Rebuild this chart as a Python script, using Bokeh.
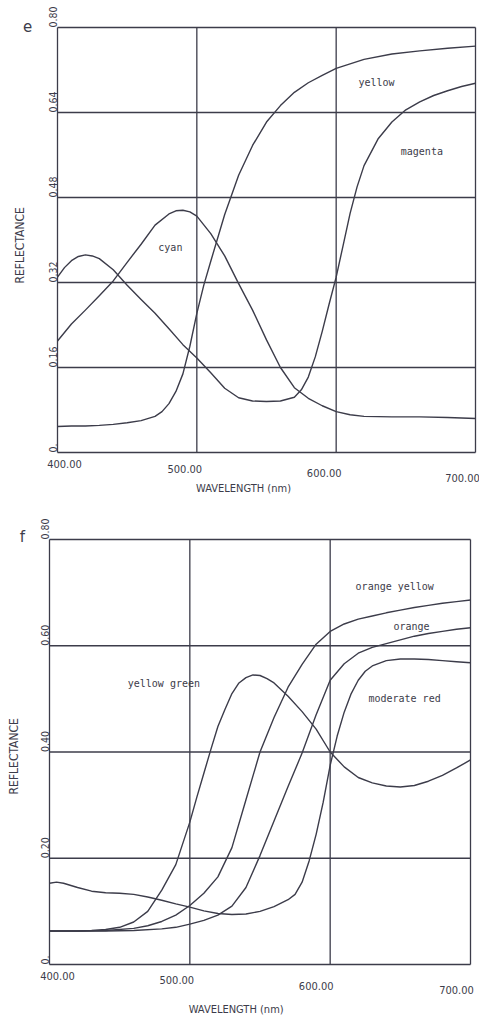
import math
from bokeh.plotting import figure
from bokeh.models import Label, Range1d
from bokeh.layouts import column
from bokeh.embed import file_html
from bokeh.resources import INLINE

# ---------------- data: panel e ----------------
e_cyan_wl = [400, 410, 420, 430, 440, 450, 460, 470, 480, 485, 490, 495, 500, 510, 520, 530,
             540, 550, 560, 570, 580, 590, 600, 610, 620, 640, 660, 680, 700]
e_cyan = [0.210, 0.242, 0.268, 0.295, 0.323, 0.358, 0.392, 0.428, 0.449, 0.455, 0.456, 0.453,
          0.445, 0.412, 0.370, 0.318, 0.268, 0.212, 0.160, 0.122, 0.102, 0.088, 0.077, 0.071,
          0.068, 0.067, 0.067, 0.066, 0.064]

e_magenta_wl = [400, 405, 410, 415, 420, 425, 430, 440, 450, 460, 470, 480, 490, 500, 510, 520,
                530, 540, 550, 560, 570, 575, 580, 585, 590, 595, 600, 605, 610, 615, 620, 630,
                640, 650, 660, 670, 680, 690, 700]
e_magenta = [0.330, 0.348, 0.361, 0.369, 0.372, 0.370, 0.365, 0.344, 0.315, 0.288, 0.262,
             0.233, 0.203, 0.178, 0.150, 0.121, 0.103, 0.097, 0.096, 0.097, 0.104, 0.118,
             0.142, 0.180, 0.228, 0.280, 0.330, 0.390, 0.450, 0.500, 0.540, 0.590, 0.622,
             0.645, 0.660, 0.672, 0.681, 0.689, 0.695]

e_yellow_wl = [400, 410, 420, 430, 440, 450, 460, 470, 475, 480, 485, 490, 495, 500, 505,
               510, 520, 530, 540, 550, 560, 570, 580, 590, 600, 620, 640, 660, 680, 700]
e_yellow = [0.049, 0.050, 0.050, 0.051, 0.053, 0.056, 0.060, 0.068, 0.077, 0.092, 0.115,
            0.148, 0.200, 0.262, 0.315, 0.360, 0.448, 0.522, 0.578, 0.622, 0.653, 0.678,
            0.696, 0.710, 0.723, 0.740, 0.750, 0.756, 0.761, 0.765]

# ---------------- data: panel f ----------------
f_yg_wl = [400, 410, 420, 430, 440, 450, 460, 470, 480, 490, 500, 505, 510, 515, 520, 525,
           530, 535, 540, 545, 550, 555, 560, 570, 580, 590, 600, 610, 620, 630, 640, 650,
           660, 670, 680, 690, 700]
f_yg = [0.063, 0.063, 0.063, 0.064, 0.066, 0.070, 0.080, 0.100, 0.140, 0.188, 0.268, 0.315,
        0.360, 0.405, 0.448, 0.480, 0.510, 0.530, 0.540, 0.545, 0.544, 0.538, 0.530, 0.505,
        0.476, 0.443, 0.400, 0.372, 0.352, 0.342, 0.336, 0.334, 0.337, 0.345, 0.356, 0.370,
        0.385]

f_oy_wl = [400, 420, 440, 460, 470, 480, 490, 500, 510, 520, 530, 540, 550, 560, 570, 580,
           590, 600, 610, 620, 630, 640, 650, 660, 670, 680, 690, 700]
f_oy = [0.063, 0.063, 0.064, 0.068, 0.073, 0.081, 0.093, 0.111, 0.134, 0.165, 0.220, 0.310,
        0.400, 0.465, 0.522, 0.565, 0.603, 0.627, 0.641, 0.650, 0.656, 0.662, 0.667, 0.672,
        0.676, 0.680, 0.683, 0.686]

f_o_wl = [400, 420, 440, 460, 480, 490, 500, 510, 520, 530, 540, 550, 560, 570, 580, 590,
          600, 610, 620, 630, 640, 650, 660, 670, 680, 690, 700]
f_o = [0.063, 0.063, 0.063, 0.064, 0.067, 0.070, 0.076, 0.083, 0.093, 0.110, 0.145, 0.205,
       0.270, 0.335, 0.398, 0.470, 0.535, 0.566, 0.586, 0.597, 0.604, 0.611, 0.618, 0.623,
       0.627, 0.631, 0.634]

f_mr_wl = [400, 405, 410, 420, 430, 440, 450, 460, 470, 480, 490, 500, 510, 520, 530, 540,
           550, 560, 570, 575, 580, 585, 590, 595, 600, 605, 610, 615, 620, 625, 630, 640,
           650, 660, 670, 680, 690, 700]
f_mr = [0.153, 0.155, 0.153, 0.145, 0.138, 0.135, 0.134, 0.132, 0.127, 0.121, 0.114, 0.108,
        0.101, 0.096, 0.094, 0.095, 0.100, 0.109, 0.122, 0.132, 0.155, 0.195, 0.245, 0.305,
        0.375, 0.430, 0.475, 0.510, 0.535, 0.552, 0.562, 0.572, 0.575, 0.575, 0.574, 0.572,
        0.570, 0.568]

# ---------------- labels / ticks ----------------
x_ticks = [400, 500, 600, 700]
x_tick_labels = ["400.00", "500.00", "600.00", "700.00"]
e_y_ticks = [0.0, 0.16, 0.32, 0.48, 0.64, 0.80]
e_y_tick_labels = ["0.", "0.16", "0.32", "0.48", "0.64", "0.80"]
f_y_ticks = [0.0, 0.20, 0.40, 0.60, 0.80]
f_y_tick_labels = ["0.", "0.20", "0.40", "0.60", "0.80"]

e_names = ["cyan", "magenta", "yellow"]
e_name_pos = [(481, 0.386), (661.5, 0.567), (629, 0.697)]
f_names = ["yellow green", "orange yellow", "orange", "moderate red"]
f_name_pos = [(481.5, 0.529), (646, 0.712), (658, 0.636), (653, 0.501)]

x_title = "WAVELENGTH (nm)"
y_title = "REFLECTANCE"

INK = "#3c3c4a"
SANS = "DejaVu Sans Condensed, Liberation Sans, sans-serif"
MONO = "DejaVu Sans Mono"
X0, X1, Y0, Y1 = 400.0, 700.0, 0.0, 0.8


def make_panel(letter, series, names, name_pos, y_ticks, y_tick_labels, width, height,
               box_left, box_right, box_top, box_bottom, xlab_dx, xlab_dy, xtitle_x,
               xtitle_dy, ytitle_y, ytitle_dx, letter_dx, letter_dy):
    # the drawing area fills the whole canvas; the data box sits inside it so that
    # the texts placed around the box are not clipped
    sx = (box_right - box_left) / (X1 - X0)
    sy = (box_bottom - box_top) / (Y1 - Y0)
    xr = Range1d(X0 - box_left / sx, X1 + (width - box_right) / sx)
    yr = Range1d(Y0 - (height - box_bottom) / sy, Y1 + box_top / sy)
    p = figure(width=width, height=height, x_range=xr, y_range=yr,
               output_backend="svg", toolbar_location=None,
               x_axis_location=None, y_axis_location=None,
               min_border=0, min_border_left=0, min_border_right=0,
               min_border_top=0, min_border_bottom=0)
    p.outline_line_color = None
    p.grid.visible = False
    p.background_fill_color = "white"
    p.border_fill_color = "white"

    # grid lines at every tick, spanning the data box only
    p.segment(x0=x_ticks, y0=[Y0] * len(x_ticks), x1=x_ticks, y1=[Y1] * len(x_ticks),
              line_color=INK, line_width=1.3)
    p.segment(x0=[X0] * len(y_ticks), y0=y_ticks, x1=[X1] * len(y_ticks), y1=y_ticks,
              line_color=INK, line_width=1.3)

    for wl, vals in series:
        p.line(wl, vals, line_color=INK, line_width=1.4, line_join="round")

    for (x, y), name in zip(name_pos, names):
        p.add_layout(Label(x=x, y=y, text=name, text_align="center", text_baseline="middle",
                           text_font=MONO, text_font_size="10px", text_color=INK))

    for t, lab, dx, dy in zip(x_ticks, x_tick_labels, xlab_dx, xlab_dy):
        p.add_layout(Label(x=t, y=Y0, text=lab, x_offset=dx, y_offset=dy,
                           text_align="center", text_baseline="middle",
                           text_font=SANS, text_font_size="11px", text_color=INK))

    for t, lab in zip(y_ticks, y_tick_labels):
        p.add_layout(Label(x=X0, y=t, text=lab, angle=math.pi / 2, x_offset=-1, y_offset=0,
                           text_align="left", text_baseline="bottom",
                           text_font=SANS, text_font_size="10.5px", text_color=INK))

    p.add_layout(Label(x=xtitle_x, y=Y0, text=x_title, y_offset=xtitle_dy,
                       text_align="center", text_baseline="middle",
                       text_font=SANS, text_font_size="11px", text_color=INK))
    p.add_layout(Label(x=X0, y=ytitle_y, text=y_title, angle=math.pi / 2, x_offset=ytitle_dx,
                       text_align="center", text_baseline="middle",
                       text_font=SANS, text_font_size="12px", text_color=INK))
    p.add_layout(Label(x=X0, y=Y1, text=letter, x_offset=letter_dx, y_offset=letter_dy,
                       text_align="center", text_baseline="middle",
                       text_font="DejaVu Sans", text_font_size="15px", text_color=INK))
    return p


pe = make_panel("e",
                [(e_cyan_wl, e_cyan), (e_magenta_wl, e_magenta), (e_yellow_wl, e_yellow)],
                e_names, e_name_pos, e_y_ticks, e_y_tick_labels,
                width=479, height=515, box_left=57, box_right=475, box_top=27, box_bottom=452,
                xlab_dx=[7, -12, -12, -13], xlab_dy=[-11, -16, -20, -25],
                xtitle_x=533.5, xtitle_dy=-36, ytitle_y=0.39, ytitle_dx=-38,
                letter_dx=-30, letter_dy=2)

pf = make_panel("f",
                [(f_yg_wl, f_yg), (f_oy_wl, f_oy), (f_o_wl, f_o), (f_mr_wl, f_mr)],
                f_names, f_name_pos, f_y_ticks, f_y_tick_labels,
                width=479, height=506, box_left=49, box_right=470, box_top=24, box_bottom=449,
                xlab_dx=[8, -13, -14, -14], xlab_dy=[-11, -15, -21, -25],
                xtitle_x=533, xtitle_dy=-45, ytitle_y=0.392, ytitle_dx=-36,
                letter_dx=-27, letter_dy=3)

layout = column(pe, pf)
open("out.html", "w").write(file_html(layout, INLINE))
